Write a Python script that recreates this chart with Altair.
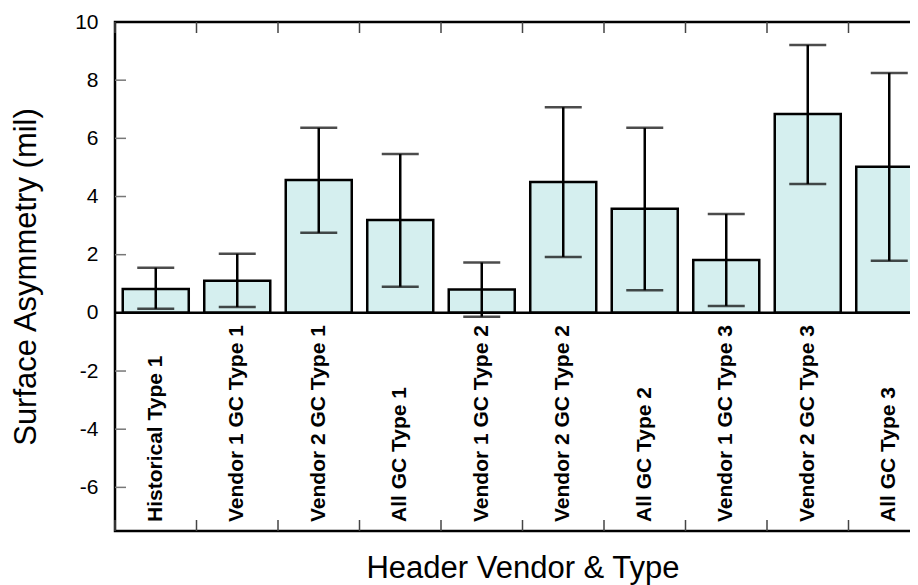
import altair as alt
import pandas as pd

categories = ["Historical Type 1", "Vendor 1 GC Type 1", "Vendor 2 GC Type 1", "All GC Type 1",
              "Vendor 1 GC Type 2", "Vendor 2 GC Type 2", "All GC Type 2",
              "Vendor 1 GC Type 3", "Vendor 2 GC Type 3", "All GC Type 3"]
means = [0.82, 1.10, 4.57, 3.19, 0.80, 4.50, 3.58, 1.82, 6.84, 5.02]
err_hi = [1.55, 2.03, 6.36, 5.46, 1.73, 7.07, 6.36, 3.40, 9.21, 8.25]
err_lo = [0.14, 0.20, 2.75, 0.90, -0.13, 1.92, 0.78, 0.24, 4.43, 1.79]
y_ticks = [-6, -4, -2, 2, 4, 6, 8]
y_labels = [-6, -4, -2, 0, 2, 4, 6, 8, 10]

df = pd.DataFrame({"cat": categories, "mean": means, "hi": err_hi, "lo": err_lo})
ticks_df = pd.DataFrame({"t": y_ticks})
zero_df = pd.DataFrame({"z": [0]})

FONT = "Liberation Sans"
xscale = alt.Scale(paddingInner=0, paddingOuter=0)
yscale = alt.Scale(domain=[-7.5, 10], nice=False, zero=False)

XAX = dict(orient="bottom", ticks=False, labels=False, domain=False,
           title="Header Vendor & Type", titleFontSize=31, titleFont=FONT,
           titleFontWeight="normal", titleColor="black", titleY=46,
           titleBaseline="alphabetic")
YAX = dict(orient="left", values=y_labels, ticks=False, domain=False, grid=False,
           labelFontSize=21, labelFont=FONT, labelColor="black", labelPadding=17,
           labelExpr="'' + datum.value",
           title="Surface Asymmetry (mil)", titleFontSize=31, titleFont=FONT,
           titleFontWeight="normal", titleColor="black", titlePadding=32)


def xcat(**kw):
    return alt.X("cat:N", sort=categories, scale=xscale, axis=alt.Axis(**XAX), **kw)


def yq(field):
    return alt.Y(field, scale=yscale, axis=alt.Axis(**YAX))


base = alt.Chart(df)

bars = base.mark_bar(width={"band": 0.81}, fill="#d5efef", stroke="black", strokeWidth=2.5).encode(
    x=xcat(), y=yq("mean:Q"),
)

zero = alt.Chart(zero_df).mark_rule(color="black", strokeWidth=2.5).encode(
    y=yq("z:Q"), x=alt.value(0), x2=alt.value("width"),
)

err = base.mark_rule(color="black", strokeWidth=2.5).encode(
    x=xcat(), y=yq("lo:Q"), y2="hi:Q",
)

cap_hi = base.mark_tick(color="black", size=37, thickness=2.5).encode(
    x=xcat(), y=yq("hi:Q"),
)
cap_lo = base.mark_tick(color="black", size=37, thickness=2.5).encode(
    x=xcat(), y=yq("lo:Q"),
)

yticks = alt.Chart(ticks_df).mark_rule(color="#777777", strokeWidth=1.5).encode(
    y=yq("t:Q"), x=alt.value(0), x2=alt.value(11),
)

top_ticks = base.mark_rule(color="#444444", strokeWidth=1.5).encode(
    x=xcat(bandPosition=0), y=alt.value(0), y2=alt.value(11),
)
bottom_ticks = base.mark_rule(color="#444444", strokeWidth=1.5).encode(
    x=xcat(bandPosition=0), y=alt.value(498), y2=alt.value(509),
)

labels = base.mark_text(angle=270, align="left", baseline="middle", fontSize=21,
                        fontWeight="bold", font=FONT, color="black").encode(
    x=xcat(), y=alt.value(500), text="cat:N",
)

chart = alt.layer(bars, zero, err, cap_hi, cap_lo, yticks, top_ticks, bottom_ticks, labels).properties(
    width=815, height=509,
    autosize=alt.AutoSizeParams(type="none"),
    padding={"left": 107, "top": 14, "right": -20, "bottom": 54},
    background="white",
).configure_view(stroke="black", strokeWidth=2.5)

chart.save("out.html", embed_options={"renderer": "svg", "actions": False})
